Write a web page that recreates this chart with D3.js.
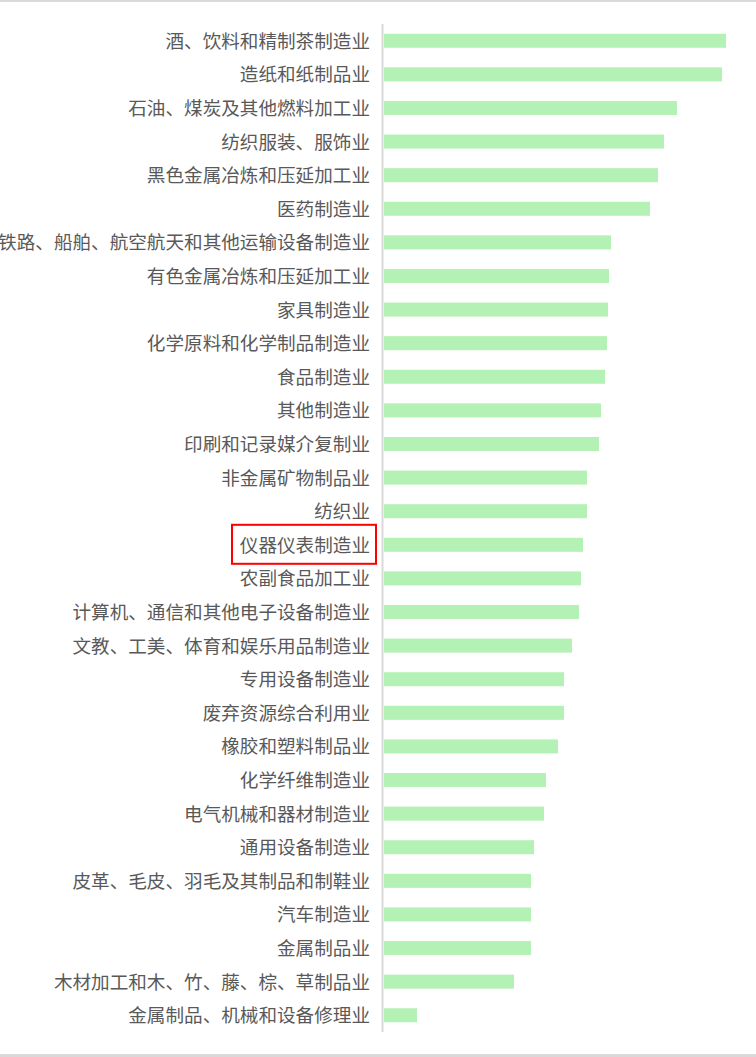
<!DOCTYPE html>
<html>
<head>
<meta charset="utf-8">
<script src="https://cdn.jsdelivr.net/npm/d3@7"></script>
<style>
html,body{margin:0;padding:0;background:#fff;}
svg{display:block;}
</style>
</head>
<body>
<svg id="chart" width="756" height="1057"></svg>
<script>
const categories = [
  "酒、饮料和精制茶制造业",
  "造纸和纸制品业",
  "石油、煤炭及其他燃料加工业",
  "纺织服装、服饰业",
  "黑色金属冶炼和压延加工业",
  "医药制造业",
  "铁路、船舶、航空航天和其他运输设备制造业",
  "有色金属冶炼和压延加工业",
  "家具制造业",
  "化学原料和化学制品制造业",
  "食品制造业",
  "其他制造业",
  "印刷和记录媒介复制业",
  "非金属矿物制品业",
  "纺织业",
  "仪器仪表制造业",
  "农副食品加工业",
  "计算机、通信和其他电子设备制造业",
  "文教、工美、体育和娱乐用品制造业",
  "专用设备制造业",
  "废弃资源综合利用业",
  "橡胶和塑料制品业",
  "化学纤维制造业",
  "电气机械和器材制造业",
  "通用设备制造业",
  "皮革、毛皮、羽毛及其制品和制鞋业",
  "汽车制造业",
  "金属制品业",
  "木材加工和木、竹、藤、棕、草制品业",
  "金属制品、机械和设备修理业"
];
const values = [342, 338, 293, 280, 274, 266, 227, 225, 224, 223, 221, 217, 215, 203, 203,
                199, 197, 195, 188, 180, 180, 174, 162, 160, 150, 147, 147, 147, 130, 33];
const highlighted = ["仪器仪表制造业"];

const svg = d3.select("#chart");
const W = 756, H = 1057;
const axisX = 383.5;
const y0 = 24, y1 = 1032;

const x = d3.scaleLinear().domain([0, 342]).range([axisX + 0.5, axisX + 0.5 + 342]);
const y = d3.scaleBand().domain(categories).range([y0, y1]).paddingInner(0.583).paddingOuter(0.29);

// top & bottom frame lines
svg.append("rect").attr("x", 0).attr("y", 0).attr("width", W).attr("height", 2).attr("fill", "#d9d9d9");
svg.append("rect").attr("x", 0).attr("y", 1054).attr("width", W).attr("height", 3).attr("fill", "#d9d9d9");

// bars
svg.append("g").selectAll("rect").data(categories).join("rect")
  .attr("x", x(0))
  .attr("y", d => y(d))
  .attr("width", (d, i) => x(values[i]) - x(0))
  .attr("height", y.bandwidth())
  .attr("fill", "#b4f1b4");

// category axis line
svg.append("line")
  .attr("x1", axisX - 1).attr("x2", axisX - 1)
  .attr("y1", y0).attr("y2", y1)
  .attr("stroke", "#d9d9d9").attr("stroke-width", 2);

// labels
const labelX = 370;
svg.append("g").selectAll("text").data(categories).join("text")
  .attr("x", labelX)
  .attr("y", d => y(d) + y.bandwidth() / 2 + 0.5)
  .attr("dy", "0.35em")
  .attr("text-anchor", "end")
  .attr("font-family", "'Noto Sans CJK SC', 'Noto Sans', sans-serif")
  .attr("font-size", "18.6px")
  .attr("fill", "#595959")
  .text(d => d);

// highlight box
highlighted.forEach(c => {
  const cy = y(c) + y.bandwidth() / 2;
  svg.append("rect")
    .attr("x", 232).attr("y", cy - 20)
    .attr("width", 144).attr("height", 39)
    .attr("fill", "none")
    .attr("stroke", "#ff0000").attr("stroke-width", 2);
});
</script>
</body>
</html>
